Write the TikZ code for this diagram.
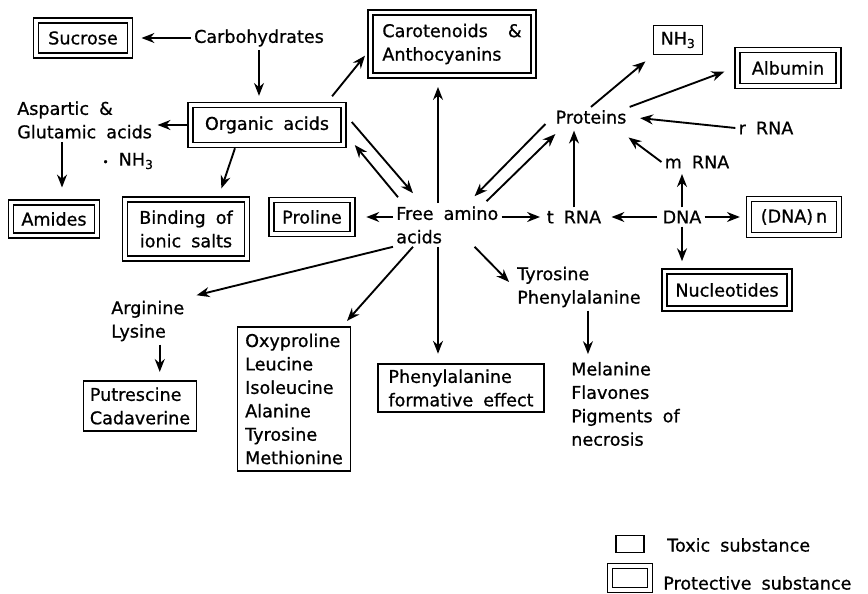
\documentclass[tikz,border=0pt]{standalone}
\usepackage{fontspec}
\setmainfont{DejaVu Sans}[WordSpace=1.8, FakeBold=0.8]
\usetikzlibrary{arrows.meta}
\def\px{0.03cm}

\begin{document}
\begin{tikzpicture}[x=\px, y=-\px, ->, >={Stealth[length=11pt,width=8.5pt]}, line width=1.6pt, font=\fontsize{15}{20}\selectfont]
    \tikzstyle{plain}=[inner sep=2pt, align=left]
    \tikzstyle{toxic}=[draw, line width=1.5pt, inner sep=3pt, align=left]
    \tikzstyle{protective}=[draw, double, double distance=2.8pt, line width=1.4pt, outer sep=2.8pt, inner sep=3pt, align=center]

    \useasboundingbox (0,0) rectangle (868,594);

    \node[protective, minimum width=94*\px, minimum height=35*\px] (sucrose) at (83,38) {Sucrose};
    \node[plain] (carb) at (259,38) {Carbohydrates};
    \node[protective, minimum width=163*\px, minimum height=63*\px, align=left] (carot) at (452,44) {Carotenoids\ \ \&\\Anthocyanins};
    \node[toxic, minimum width=49*\px, minimum height=29*\px] (nh3) at (678,40) {NH\textsubscript{3}};
    \node[protective, minimum width=101*\px, minimum height=36*\px] (albumin) at (788,68) {Albumin};
    \node[plain] (proteins) at (591,117) {Proteins};
    \node[plain] (rrna) at (766,128) {r RNA};
    \node[plain] (mrna) at (697,162) {m RNA};

    \node[plain, anchor=west] (aspartic) at (14,120) {Aspartic \&\\Glutamic acids};
    \node[protective, minimum width=153*\px, minimum height=40*\px] (organic) at (267,125) {Organic acids};
    \node[plain] (nh3b) at (128,161) {{\small•} NH\textsubscript{3}};

    \node[protective, minimum width=86*\px, minimum height=33*\px] (amides) at (54,219) {Amides};
    \node[protective, minimum width=122*\px, minimum height=59*\px] (binding) at (186,229) {Binding of\\ionic salts};
    \node[protective, minimum width=81*\px, minimum height=34*\px] (proline) at (312,217) {Proline};
    \node[plain, anchor=west] (free) at (393,225) {Free amino\\acids};
    \node[plain] (trna) at (574,217) {t RNA};
    \node[plain] (dna) at (682,217) {DNA};
    \node[protective, minimum width=90*\px, minimum height=36*\px] (dnan) at (794,217) {(DNA)\,n};
    \node[protective, minimum width=125*\px, minimum height=37*\px] (nucleo) at (727,290) {Nucleotides};

    \node[plain, anchor=west] (tyrosine) at (514,287) {Tyrosine\\Phenylalanine};
    \node[plain, anchor=west] (melanine) at (568,404) {Melanine\\Flavones\\Pigments of\\necrosis};
    \node[plain, anchor=west] (arginine) at (108,321) {Arginine\\Lysine};
    \node[toxic, minimum width=113*\px, minimum height=50*\px] (putres) at (140,406) {Putrescine\\Cadaverine};
    \node[toxic, minimum width=113*\px, minimum height=144*\px] (oxy) at (294,399) {Oxyproline\\Leucine\\Isoleucine\\Alanine\\Tyrosine\\Methionine};
    \node[toxic, minimum width=166*\px, minimum height=48*\px] (phenyl) at (461,388) {Phenylalanine\\formative effect};

    % legend
    \node[toxic, minimum width=28*\px, minimum height=17*\px, inner sep=0pt] (legtox) at (630,544) {};
    \node[plain, anchor=west] (toxtext) at (664,545) {Toxic substance};
    \node[protective, minimum width=40*\px, minimum height=24*\px, inner sep=0pt] (legprot) at (630,578) {};
    \node[plain, anchor=west] (prottext) at (660,583) {Protective substance};

    \draw[shorten >=7pt] (carb) -- (sucrose);
    \draw[shorten >=5pt] (carb.south) -- (carb.south |- organic.north);
    \draw[shorten >=2pt] (organic.west) -- (organic.west -| aspartic.east);
    \draw[shorten >=10pt] ([xshift=8*\px]amides.north |- aspartic.south) -- ([xshift=8*\px]amides.north);
    \draw[shorten >=7pt] (organic.216) -- (binding.45);
    \draw[shorten <=6pt, shorten >=3pt] (organic.21) -- (carot.186);
    % organic acids and free amino acids both ways
    \draw ([shift={(5,-3)}]organic.east) -- ([shift={(20,-10)}]free.north west);
    \draw ([shift={(5,-6)}]free.north west) -- ([shift={(8,20)}]organic.east);
    \draw[shorten >=9pt] (free.west |- proline.east) -- (proline.east);
    \coordinate (spine) at (438,225);
    \draw[shorten >=7pt] (spine |- free.north) -- (spine |- carot.south);
    \draw[shorten >=8pt] (spine |- free.south) -- (spine |- phenyl.north);
    \draw[shorten >=3pt] (free.east |- trna.west) -- (trna.west);
    % proteins and free amino acids both ways
    \draw ([shift={(-7,-3)}]proteins.south west) -- ([shift={(-27,-7)}]free.north east);
    \draw ([shift={(-15,-2)}]free.north east) -- ([shift={(3,7)}]proteins.south west);
    \draw[shorten >=3pt] (trna.north) -- (trna.north |- proteins.south);
    \draw[shorten >=6pt, shorten <=2pt] (dna.west) -- (trna.east);
    \draw[shorten >=5pt] (dna.east) -- (dna.east -| dnan.west);
    \draw[shorten >=2pt] (dna.north) -- (dna.north |- mrna.south);
    \draw[shorten >=6pt] (dna.south) -- (dna.south |- nucleo.north);
    \draw[shorten >=2pt] (mrna.west) -- ([shift={(-3,9)}]proteins.south east);
    \draw[shorten >=9pt] (rrna.west) -- (proteins.east);
    \draw[shorten >=8pt] (proteins.north) -- (nh3.south west);
    \draw[shorten >=9pt] (proteins.north east) -- (albumin.west);
    \draw[shorten >=8pt] (free.south west) -- (arginine.north east);
    \draw[shorten >=6pt] ([xshift=20*\px]free.south west) -- ([xshift=-9*\px]oxy.north east);
    \draw[shorten >=6pt] ([xshift=-27*\px]free.south east) -- (tyrosine.west);
    \draw[shorten >=7pt] ([xshift=12*\px]arginine.south) -- ([xshift=12*\px]arginine.south |- putres.north);
    \draw[shorten >=4pt] ([xshift=9*\px]tyrosine.south) -- ([xshift=9*\px]tyrosine.south |- melanine.north);
\end{tikzpicture}
\end{document}
